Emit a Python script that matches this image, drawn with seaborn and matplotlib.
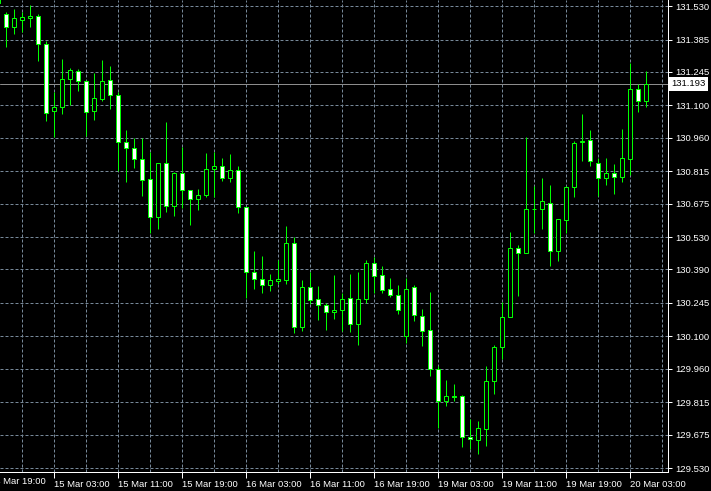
import numpy as np
import pandas as pd
import matplotlib
matplotlib.use("Agg")
import matplotlib.pyplot as plt
import matplotlib.transforms as mtransforms
import seaborn as sns

# H1 candles (first one is cut by the left edge)
opens=[131.575,131.495,131.439,131.469,131.478,131.487,131.365,131.075,131.093,131.214,131.249,
       131.205,131.075,131.127,131.210,131.145,130.941,130.915,130.868,130.781,130.617,130.850,
       130.664,130.807,130.733,130.694,130.712,130.824,130.837,130.785,130.820,130.660,130.378,
       130.348,130.322,130.339,130.344,130.504,130.140,130.314,130.262,130.236,130.205,130.214,
       130.266,130.153,130.262,130.417,130.365,130.305,130.279,130.101,130.314,130.188,130.127,
       129.959,129.820,129.844,129.842,129.664,129.651,129.699,129.907,130.054,130.184,130.482,
       130.461,130.653,130.651,130.677,130.469,130.604,130.746,130.941,130.950,130.850,130.785,
       130.807,130.790,130.868,131.171,131.119]
highs=[131.600,131.504,131.517,131.504,131.534,131.495,131.378,131.158,131.300,131.262,131.257,
       131.210,131.240,131.296,131.270,131.158,130.993,130.959,130.959,130.898,130.850,131.028,
       130.811,130.920,130.733,130.738,130.894,130.898,130.872,130.889,130.837,130.660,130.469,
       130.448,130.370,130.430,130.578,130.530,130.344,130.378,130.318,130.244,130.365,130.288,
       130.370,130.378,130.430,130.443,130.404,130.352,130.322,130.352,130.322,130.218,130.292,
       129.972,129.911,129.894,129.846,129.742,129.734,129.972,130.062,130.249,130.552,130.495,
       130.963,130.751,130.785,130.755,130.608,130.751,130.946,131.062,130.993,130.872,130.872,
       130.846,130.998,131.283,131.193,131.249]
lows=[131.491,131.352,131.409,131.417,131.439,131.292,131.032,130.963,131.062,131.101,131.162,
      130.967,131.036,131.119,131.084,130.816,130.768,130.829,130.708,130.547,130.565,130.638,
      130.621,130.656,130.582,130.647,130.703,130.703,130.772,130.768,130.634,130.266,130.305,
      130.288,130.296,130.327,130.327,130.114,130.123,130.240,130.171,130.127,130.175,130.123,
      130.119,130.062,130.244,130.288,130.288,130.270,130.197,130.071,130.166,130.058,129.928,
      129.703,129.798,129.820,129.621,129.612,129.591,129.625,129.850,130.002,130.184,130.275,
      130.461,130.547,130.565,130.404,130.426,130.547,130.703,130.859,130.837,130.708,130.755,
      130.716,130.768,130.798,131.071,131.093]
closes=[131.545,131.439,131.478,131.482,131.487,131.365,131.067,131.093,131.214,131.253,131.205,
        131.071,131.132,131.205,131.145,130.941,130.915,130.868,130.777,130.617,130.850,130.664,
        130.807,130.733,130.694,130.712,130.824,130.837,130.785,130.820,130.660,130.378,130.348,
        130.322,130.344,130.348,130.504,130.140,130.314,130.257,130.236,130.205,130.214,130.262,
        130.153,130.262,130.417,130.361,130.301,130.279,130.214,130.305,130.192,130.123,129.959,
        129.820,129.842,129.838,129.664,129.656,129.703,129.907,130.054,130.184,130.482,130.461,
        130.651,130.650,130.686,130.469,130.608,130.746,130.937,130.946,130.859,130.785,130.807,
        130.790,130.872,131.171,131.119,131.193]

time_labels=["14 Mar 19:00","15 Mar 03:00","15 Mar 11:00","15 Mar 19:00","16 Mar 03:00",
             "16 Mar 11:00","16 Mar 19:00","19 Mar 03:00","19 Mar 11:00","19 Mar 19:00",
             "20 Mar 03:00"]
price_labels=["131.530","131.385","131.245","131.100","130.960","130.815","130.675","130.530",
              "130.390","130.245","130.100","129.960","129.815","129.675","129.530"]
last_price=131.193

df=pd.DataFrame({"open":opens,"high":highs,"low":lows,"close":closes})
df["bar"]=np.arange(len(df))-1
df["bear"]=df["close"]<df["open"]

sns.set_theme(style="dark",rc={"axes.facecolor":"black","figure.facecolor":"black",
                               "axes.grid":False})
plt.rcParams["font.family"]=["Liberation Sans","DejaVu Sans"]

px=1/100*72
fig=plt.figure(figsize=(7.11,4.91),dpi=100)
ax=fig.add_axes([0,19/491,668/711,472/491])

lime="#00ff00"
grid_c="#778899"

# grid
tick_vals=[float(v) for v in price_labels]
for v in tick_vals:
    ax.axhline(v,color=grid_c,lw=px,ls=(0,(3,2)),zorder=1)
for b in range(-2,84,4):
    ax.axvline(b,color=grid_c,lw=px,ls=(0,(3,2)),zorder=1)

ax.axhline(last_price,color="#8c8c8c",lw=px,zorder=1.5)

# candles
ax.vlines(df["bar"],df["low"],df["high"],color=lime,lw=px,zorder=2)
body_lo=df[["open","close"]].min(axis=1)
body_h=(df["close"]-df["open"]).abs()
ax.bar(df["bar"],body_h,bottom=body_lo,width=0.6,
       color=np.where(df["bear"],"white","black"),edgecolor=lime,linewidth=px,zorder=3)

for s in ["top","left"]:
    ax.spines[s].set_visible(False)
for s in ["right","bottom"]:
    ax.spines[s].set_visible(True)
    ax.spines[s].set_color("white")
    ax.spines[s].set_linewidth(px)

ax.yaxis.tick_right()
ax.set_yticks(tick_vals)
ax.set_yticklabels(price_labels)
ax.set_xticks(list(range(6,82,8)))
ax.set_xticklabels(time_labels[1:])
ax.tick_params(axis="y",colors="white",length=3,width=px,pad=2,labelsize=6.8,
               right=True,left=False,direction="out")
ax.tick_params(axis="x",colors="white",length=4,width=px,pad=1.5,labelsize=6.8,
               bottom=True,direction="out")
for t in ax.get_xticklabels():
    t.set_horizontalalignment("left")

# first time label sits left of the visible area
xtrans=mtransforms.blended_transform_factory(ax.transData,ax.transAxes)
ax.text(-2,-5.5/472,time_labels[0],transform=xtrans,ha="left",va="top",
        fontsize=6.8,color="white",clip_on=False)

ax.set_xlim(-0.75,82.75)
ax.set_ylim(129.513,131.556)

trans=mtransforms.blended_transform_factory(ax.transAxes,ax.transData)
ax.text(1+3/668,last_price,f"{last_price:.3f}",transform=trans,ha="left",va="center",
        fontsize=6.8,color="black",
        bbox=dict(boxstyle="square,pad=0.25",fc="white",ec="none"))

fig.savefig("out.png",dpi=100,facecolor="black")
